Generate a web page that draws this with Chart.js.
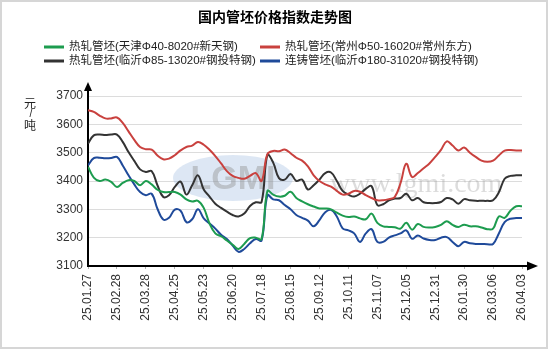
<!DOCTYPE html>
<html>
<head>
<meta charset="utf-8">
<script src="https://cdn.jsdelivr.net/npm/chart.js@4/dist/chart.umd.min.js"></script>
<style>
html,body{margin:0;padding:0;background:#fff;}
#wrap{width:550px;height:350px;position:relative;}
canvas{display:block;}
</style>
</head>
<body>
<div id="wrap"><canvas id="c" width="550" height="350"></canvas></div>
<script>
// ---- data ----
const chartTitle = '国内管坯价格指数走势图';
const unitLabel = ['元', '/', '吨'];
const tickLabels = ['25.01.27','25.02.28','25.03.28','25.04.25','25.05.23','25.06.20','25.07.18','25.08.15',
  '25.09.12','25.10.11','25.11.07','25.12.05','25.12.31','26.01.30','26.03.06','26.04.03'];
const daysPerTick = 20;      // trading days between labelled ticks
const daysPerSample = 4;     // trading days between sampled values

const seriesNames = [
  '热轧管坯(天津Φ40-8020#新天钢)',
  '热轧管坯(常州Φ50-16020#常州东方)',
  '热轧管坯(临沂Φ85-13020#钢投特钢)',
  '连铸管坯(临沂Φ180-31020#钢投特钢)'
];
const tianjin = [3450,3412,3400,3405,3397,3379,3393,3403,3400,3385,3400,3388,3369,3361,3361,3361,
  3352,3335,3328,3330,3305,3250,3215,3205,3190,3175,3160,3178,3198,3200,3195,
  3365,3352,3345,3348,3362,3340,3328,3318,3310,3303,3303,3300,3288,3278,3273,
  3275,3268,3265,3285,3252,3240,3238,3237,3232,3253,3228,3248,3238,3236,3238,
  3245,3258,3245,3238,3246,3240,3240,3236,3230,3232,3275,3270,3295,3311,3311];
const changzhou = [3650,3644,3631,3621,3621,3624,3605,3575,3545,3520,3512,3511,3490,3477,3479,3491,
  3508,3520,3525,3538,3528,3510,3488,3462,3435,3418,3411,3408,3418,3428,3400,
  3495,3506,3505,3511,3498,3482,3472,3452,3420,3400,3388,3380,3365,3352,3355,
  3365,3362,3350,3340,3332,3332,3336,3343,3392,3461,3414,3428,3445,3462,3485,
  3510,3540,3525,3508,3518,3500,3485,3472,3468,3472,3490,3507,3509,3508,3508];
const linyiHot = [3532,3561,3564,3562,3564,3564,3538,3502,3471,3441,3432,3435,3385,3344,3350,3379,
  3398,3352,3385,3420,3370,3345,3320,3305,3292,3280,3275,3285,3312,3325,3326,
  3492,3465,3410,3405,3425,3400,3405,3370,3385,3405,3428,3430,3400,3365,3352,
  3345,3355,3372,3382,3315,3318,3332,3338,3340,3355,3332,3340,3325,3322,3322,
  3326,3340,3335,3320,3336,3332,3330,3330,3330,3332,3360,3408,3418,3420,3420];
const linyiCast = [3455,3481,3482,3480,3481,3485,3455,3420,3388,3361,3350,3355,3302,3264,3270,3299,
  3295,3255,3265,3300,3268,3250,3232,3210,3195,3172,3150,3160,3180,3195,3190,
  3350,3335,3332,3315,3300,3280,3270,3260,3240,3262,3290,3298,3275,3233,3226,
  3215,3185,3215,3230,3185,3185,3200,3208,3215,3226,3196,3208,3197,3192,3192,
  3200,3202,3185,3170,3185,3180,3178,3178,3177,3178,3215,3255,3267,3269,3269];
const yTicks = {min: 3100, max: 3700, step: 100};

const seriesColors = ['#1d9c4f', '#c9413e', '#333333', '#1f4a9a'];

// ---- build ----
const allSeries = [tianjin, changzhou, linyiHot, linyiCast];
const toPoints = arr => arr.map((v, i) => ({x: i * daysPerSample, y: v}));
const datasets = allSeries.map((arr, k) => ({
  label: seriesNames[k],
  data: toPoints(arr),
  borderColor: seriesColors[k],
  backgroundColor: seriesColors[k],
  borderWidth: 2,
  pointRadius: 0,
  tension: 0.4,
  fill: false
}));

const LATIN = '"Liberation Sans", Arial, "Noto Sans CJK SC", sans-serif';
const CJK = '"Noto Sans CJK SC", "Liberation Sans", sans-serif';

const decor = {
  id: 'decor',
  beforeDatasetsDraw(chart) {
    const ctx = chart.ctx;
    ctx.save();
    ctx.globalAlpha = 0.35;
    ctx.fillStyle = '#9fb9e0';
    ctx.beginPath();
    ctx.ellipse(233, 178, 60, 23, 0, 0, Math.PI * 2);
    ctx.fill();
    ctx.globalAlpha = 0.4;
    ctx.fillStyle = '#8a8a8a';
    ctx.font = 'bold 34px "Liberation Sans", sans-serif';
    ctx.textAlign = 'center';
    ctx.textBaseline = 'middle';
    ctx.fillText('LGMI', 233, 180);
    ctx.globalAlpha = 0.35;
    ctx.fillStyle = '#9a9a9a';
    ctx.font = '28px "Liberation Serif", "DejaVu Serif", serif';
    ctx.textAlign = 'left';
    ctx.textBaseline = 'alphabetic';
    ctx.fillText('www.lgmi.com', 330, 192);
    ctx.restore();
  },
  afterDraw(chart) {
    const ctx = chart.ctx;
    const a = chart.chartArea;
    ctx.save();
    ctx.strokeStyle = '#d6d6d6';
    ctx.lineWidth = 2;
    ctx.strokeRect(1, 1, 546, 347);
    ctx.fillStyle = '#000';
    ctx.font = 'bold 14px ' + CJK;
    ctx.textAlign = 'center';
    ctx.textBaseline = 'middle';
    ctx.fillText(chartTitle, 275, 17);
    const cols = [44, 260], rows = [47, 61];
    chart.data.datasets.forEach((ds, k) => {
      const cx = cols[k % 2], cy = rows[Math.floor(k / 2)];
      ctx.strokeStyle = ds.borderColor;
      ctx.lineWidth = 3;
      ctx.beginPath();
      ctx.moveTo(cx, cy);
      ctx.lineTo(cx + 20, cy);
      ctx.stroke();
      ctx.fillStyle = '#222';
      ctx.font = '11.5px ' + LATIN;
      ctx.textAlign = 'left';
      ctx.textBaseline = 'middle';
      ctx.fillText(ds.label, cx + 25, cy);
    });
    ctx.fillStyle = '#222';
    ctx.font = '12px ' + CJK;
    ctx.textAlign = 'center';
    ctx.fillText(unitLabel[0], 30, 103);
    ctx.font = '10px ' + LATIN;
    ctx.fillText(unitLabel[1], 31, 114);
    ctx.font = '12px ' + CJK;
    ctx.fillText(unitLabel[2], 30, 125);
    ctx.fillStyle = '#000';
    ctx.strokeStyle = '#000';
    ctx.lineWidth = 2;
    ctx.beginPath();
    ctx.moveTo(a.left, a.top);
    ctx.lineTo(a.left, a.top - 6);
    ctx.moveTo(a.right, a.bottom);
    ctx.lineTo(a.right + 6, a.bottom);
    ctx.stroke();
    ctx.beginPath();
    ctx.moveTo(a.left, a.top - 14);
    ctx.lineTo(a.left - 4, a.top - 5);
    ctx.lineTo(a.left + 4, a.top - 5);
    ctx.closePath();
    ctx.fill();
    ctx.beginPath();
    ctx.moveTo(a.right + 16, a.bottom);
    ctx.lineTo(a.right + 5, a.bottom - 4.5);
    ctx.lineTo(a.right + 5, a.bottom + 4.5);
    ctx.closePath();
    ctx.fill();
    ctx.restore();
  }
};

new Chart(document.getElementById('c'), {
  type: 'line',
  data: {datasets},
  plugins: [decor],
  options: {
    responsive: false,
    animation: false,
    layout: {padding: {top: 96, right: 28, left: 0, bottom: 0}},
    plugins: {legend: {display: false}, title: {display: false}, tooltip: {enabled: false}},
    scales: {
      x: {
        type: 'linear',
        min: 0,
        max: (tickLabels.length - 1) * daysPerTick,
        afterFit(s) { s.height = 84; },
        grid: {drawOnChartArea: false, drawTicks: true, tickLength: 3, color: '#b0b0b0'},
        border: {display: true, color: '#000', width: 2},
        ticks: {
          stepSize: daysPerTick,
          autoSkip: false,
          maxRotation: 90,
          minRotation: 90,
          padding: 5,
          color: '#333',
          font: {family: LATIN, size: 12},
          callback: v => tickLabels[Math.round(v / daysPerTick)] || ''
        }
      },
      y: {
        min: yTicks.min,
        max: yTicks.max,
        afterFit(s) { s.width = 88; },
        grid: {color: '#dcdcdc', drawTicks: false, lineWidth: 1},
        border: {display: true, color: '#000', width: 2},
        ticks: {
          stepSize: yTicks.step,
          padding: 5,
          color: '#333',
          font: {family: LATIN, size: 12},
          callback: v => String(v)
        }
      }
    }
  }
});
</script>
</body>
</html>
